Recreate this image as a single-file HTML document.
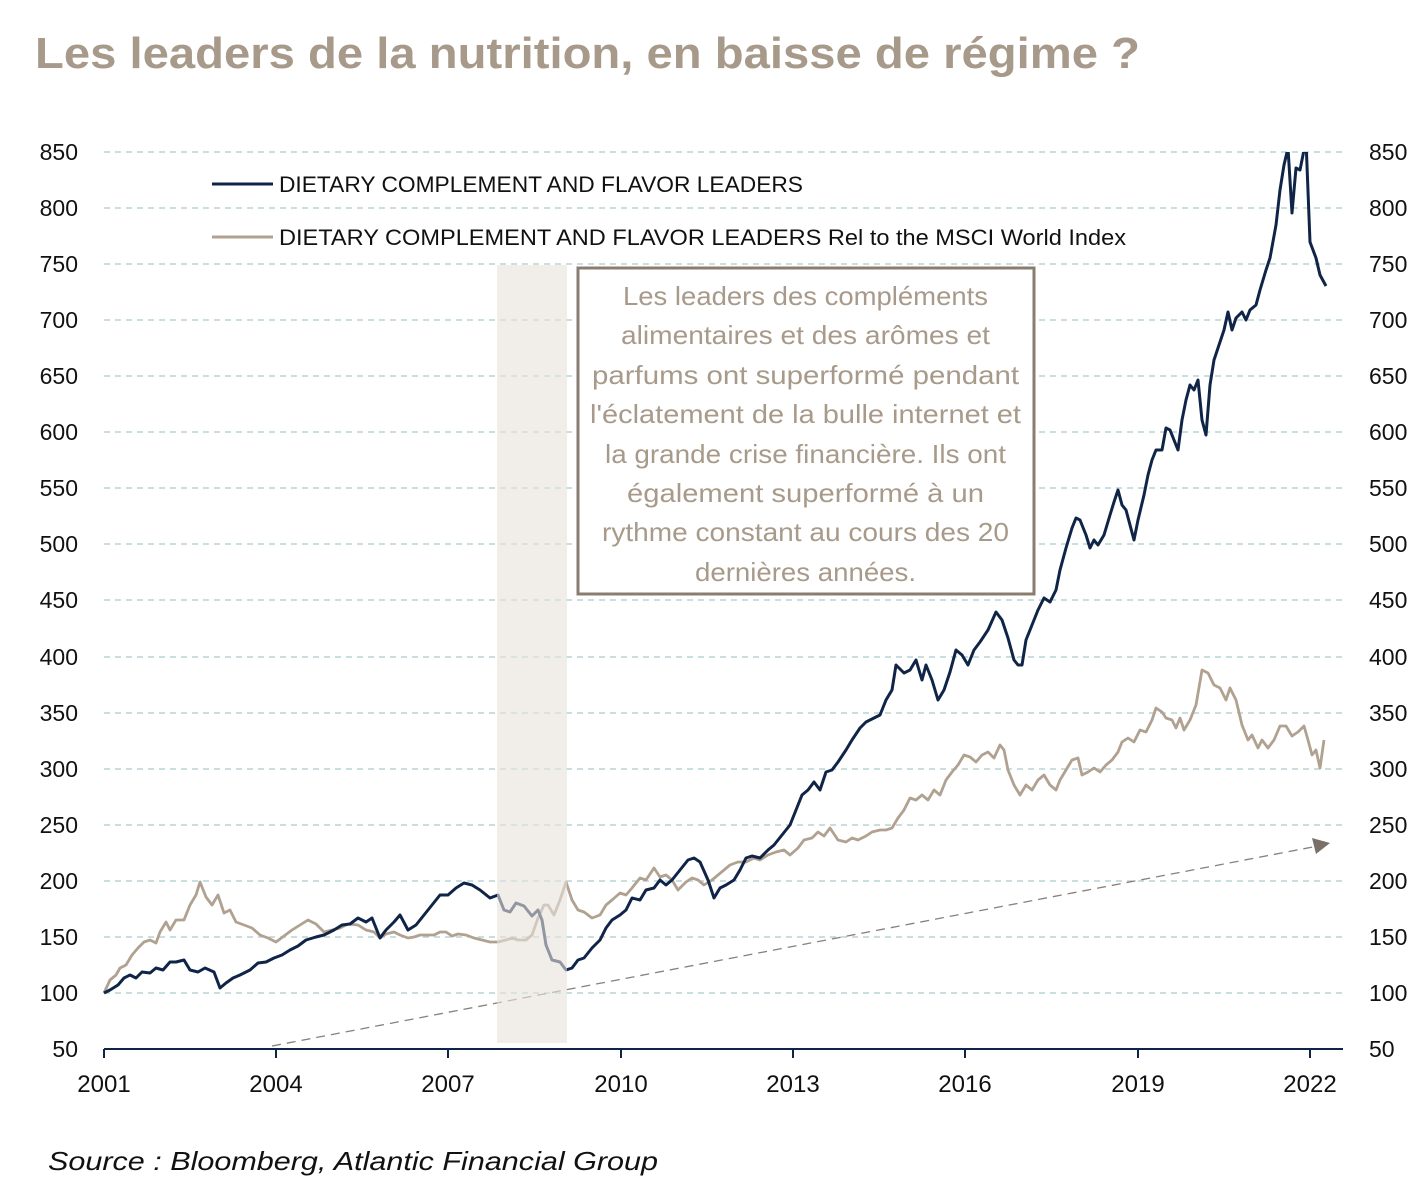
<!DOCTYPE html>
<html><head><meta charset="utf-8"><style>
body{margin:0;background:#fff;}
svg{display:block;font-family:"Liberation Sans",sans-serif;}
</style></head><body>
<svg width="1420" height="1200" viewBox="0 0 1420 1200" xmlns="http://www.w3.org/2000/svg">
<rect width="1420" height="1200" fill="#fff"/>
<text x="35" y="68" font-size="44" font-weight="bold" fill="#a89a8a" textLength="1105" lengthAdjust="spacingAndGlyphs">Les leaders de la nutrition, en baisse de régime ?</text>
<g stroke="#a9cccc" stroke-width="1.3" stroke-dasharray="6,5">
<line x1="104" y1="152" x2="1343" y2="152"/><line x1="104" y1="208" x2="1343" y2="208"/><line x1="104" y1="264" x2="1343" y2="264"/><line x1="104" y1="320" x2="1343" y2="320"/><line x1="104" y1="376" x2="1343" y2="376"/><line x1="104" y1="432" x2="1343" y2="432"/><line x1="104" y1="488" x2="1343" y2="488"/><line x1="104" y1="544" x2="1343" y2="544"/><line x1="104" y1="600" x2="1343" y2="600"/><line x1="104" y1="657" x2="1343" y2="657"/><line x1="104" y1="713" x2="1343" y2="713"/><line x1="104" y1="769" x2="1343" y2="769"/><line x1="104" y1="825" x2="1343" y2="825"/><line x1="104" y1="881" x2="1343" y2="881"/><line x1="104" y1="937" x2="1343" y2="937"/><line x1="104" y1="993" x2="1343" y2="993"/>
</g>
<g font-size="23" fill="#111" text-anchor="end">
<text x="78" y="160">850</text><text x="78" y="216">800</text><text x="78" y="272">750</text><text x="78" y="328">700</text><text x="78" y="384">650</text><text x="78" y="440">600</text><text x="78" y="496">550</text><text x="78" y="552">500</text><text x="78" y="608">450</text><text x="78" y="665">400</text><text x="78" y="721">350</text><text x="78" y="777">300</text><text x="78" y="833">250</text><text x="78" y="889">200</text><text x="78" y="945">150</text><text x="78" y="1001">100</text><text x="78" y="1057">50</text>
</g>
<g font-size="23" fill="#111">
<text x="1369" y="160">850</text><text x="1369" y="216">800</text><text x="1369" y="272">750</text><text x="1369" y="328">700</text><text x="1369" y="384">650</text><text x="1369" y="440">600</text><text x="1369" y="496">550</text><text x="1369" y="552">500</text><text x="1369" y="608">450</text><text x="1369" y="665">400</text><text x="1369" y="721">350</text><text x="1369" y="777">300</text><text x="1369" y="833">250</text><text x="1369" y="889">200</text><text x="1369" y="945">150</text><text x="1369" y="1001">100</text><text x="1369" y="1057">50</text>
</g>
<line x1="272" y1="1046" x2="1318" y2="846" stroke="#8a8078" stroke-width="1.3" stroke-dasharray="9,6"/>
<polygon points="1330,843 1312,838 1316,854" fill="#7a7068"/>
<polyline fill="none" stroke="#b0a190" stroke-width="2.8" stroke-linejoin="round" points="104,993 110,980 116,975 120,968 126,965 132,955 138,948 144,942 150,940 156,943 160,932 166,922 170,930 176,920 184,920 190,905 196,895 200,882 206,897 212,905 218,895 224,913 230,910 236,922 244,925 252,928 260,935 268,938 276,942 284,936 292,930 300,925 308,920 316,924 324,932 332,930 340,928 348,924 358,925 366,930 374,932 380,938 386,934 394,932 400,935 408,938 414,937 420,935 428,935 434,935 440,932 446,932 452,936 458,934 466,935 474,938 482,940 490,942 498,942 506,940 512,938 518,940 526,940 532,935 538,918 544,905 548,905 554,915 560,900 566,882 572,900 578,910 584,912 592,918 600,915 606,905 612,900 620,893 626,895 632,888 640,878 646,880 654,868 660,877 666,875 672,880 678,890 686,882 692,878 698,880 704,885 712,880 718,875 724,870 730,865 738,862 746,862 754,858 760,860 768,855 776,852 784,850 790,855 798,848 804,840 812,838 818,832 824,836 830,828 838,840 846,842 852,838 858,840 866,836 872,832 880,830 886,830 892,828 898,818 904,810 910,798 916,800 922,795 928,800 934,790 940,795 946,780 952,772 958,765 964,755 970,757 976,762 982,755 988,752 994,758 1000,745 1004,750 1008,770 1014,785 1020,795 1026,785 1032,790 1038,780 1044,775 1050,785 1056,790 1060,780 1066,770 1072,760 1078,758 1082,775 1088,772 1094,768 1100,772 1106,765 1112,760 1118,752 1122,742 1128,738 1134,742 1140,730 1146,732 1152,720 1156,708 1162,712 1166,718 1172,720 1176,728 1180,718 1184,730 1190,720 1196,705 1202,670 1208,673 1214,685 1220,688 1226,700 1230,688 1236,700 1242,725 1248,740 1252,735 1258,748 1262,740 1268,748 1274,740 1280,726 1286,726 1292,736 1298,732 1304,726 1308,740 1312,755 1316,750 1320,768 1324,740"/>
<svg x="0" y="152" width="1420" height="1000" viewBox="0 152 1420 1000" overflow="hidden">
<polyline fill="none" stroke="#0f2447" stroke-width="3" stroke-linejoin="round" points="104,993 110,990 118,985 124,978 130,975 136,978 142,972 150,973 156,968 163,970 170,962 176,962 184,960 190,970 198,972 205,968 214,972 220,988 226,983 233,978 240,975 250,970 258,963 266,962 274,958 282,955 290,950 298,946 306,940 316,937 324,935 334,930 342,925 350,924 358,918 366,922 372,918 380,938 386,930 394,922 400,915 408,930 416,925 424,915 432,905 440,895 448,895 456,888 464,883 472,885 480,890 490,898 498,895 504,910 510,912 516,903 524,906 532,916 538,910 542,920 546,945 552,960 560,962 566,970 572,968 578,960 584,958 592,948 600,940 606,928 612,920 620,915 626,910 632,898 640,900 646,890 654,888 660,880 666,885 672,880 680,870 688,860 694,858 700,862 708,880 714,898 720,888 726,885 734,880 740,870 746,858 752,856 760,858 768,850 774,845 782,835 790,825 796,810 802,795 808,790 814,782 820,790 826,772 832,770 838,762 846,750 852,740 860,728 866,722 874,718 880,715 886,700 892,690 896,665 904,673 910,670 916,660 922,680 926,665 932,680 938,700 944,690 950,672 956,650 962,655 968,665 974,650 980,642 988,630 996,612 1002,620 1008,638 1014,660 1018,665 1022,665 1026,640 1032,625 1038,610 1044,598 1050,602 1056,590 1060,570 1066,548 1072,528 1076,518 1080,520 1086,535 1090,548 1094,540 1098,545 1104,535 1110,515 1114,502 1118,490 1122,505 1126,510 1130,525 1134,540 1138,520 1144,495 1148,475 1152,460 1156,450 1162,450 1166,428 1170,430 1174,440 1178,450 1182,420 1186,400 1190,385 1194,390 1198,380 1202,420 1206,435 1210,385 1214,360 1218,348 1224,330 1228,312 1232,330 1236,318 1242,312 1246,320 1250,310 1256,305 1260,290 1266,270 1270,258 1276,225 1280,190 1284,165 1288,148 1292,213 1296,168 1300,170 1304,150 1306,140 1310,242 1316,258 1320,275 1326,286"/>
</svg>
<rect x="497" y="265" width="70" height="778" fill="#e8e2dc" fill-opacity="0.6"/>
<line x1="104" y1="1049" x2="1343" y2="1049" stroke="#0f2447" stroke-width="2"/>
<g stroke="#0f2447" stroke-width="2">
<line x1="104" y1="1049" x2="104" y2="1058"/><line x1="276" y1="1049" x2="276" y2="1058"/><line x1="448" y1="1049" x2="448" y2="1058"/><line x1="621" y1="1049" x2="621" y2="1058"/><line x1="793" y1="1049" x2="793" y2="1058"/><line x1="965" y1="1049" x2="965" y2="1058"/><line x1="1138" y1="1049" x2="1138" y2="1058"/><line x1="1310" y1="1049" x2="1310" y2="1058"/>
</g>
<g font-size="24" fill="#111" text-anchor="middle">
<text x="104" y="1092">2001</text><text x="276" y="1092">2004</text><text x="448" y="1092">2007</text><text x="621" y="1092">2010</text><text x="793" y="1092">2013</text><text x="965" y="1092">2016</text><text x="1138" y="1092">2019</text><text x="1310" y="1092">2022</text>
</g>
<line x1="212" y1="184" x2="273" y2="184" stroke="#0f2447" stroke-width="3"/>
<text x="279" y="192" font-size="22" fill="#111" textLength="524" lengthAdjust="spacingAndGlyphs">DIETARY COMPLEMENT AND FLAVOR LEADERS</text>
<line x1="212" y1="237" x2="273" y2="237" stroke="#b0a190" stroke-width="3"/>
<text x="279" y="245" font-size="22" fill="#111" textLength="847" lengthAdjust="spacingAndGlyphs">DIETARY COMPLEMENT AND FLAVOR LEADERS Rel to the MSCI World Index</text>
<rect x="578" y="268" width="456" height="326" fill="#fff" stroke="#8a7d70" stroke-width="3"/>
<g font-size="26" fill="#a89a8a" lengthAdjust="spacingAndGlyphs">
<text x="623" y="305" textLength="365" lengthAdjust="spacingAndGlyphs">Les leaders des compléments</text>
<text x="621" y="344" textLength="369" lengthAdjust="spacingAndGlyphs">alimentaires et des arômes et</text>
<text x="592" y="384" textLength="427" lengthAdjust="spacingAndGlyphs">parfums ont superformé pendant</text>
<text x="590" y="423" textLength="431" lengthAdjust="spacingAndGlyphs">l'éclatement de la bulle internet et</text>
<text x="605" y="463" textLength="401" lengthAdjust="spacingAndGlyphs">la grande crise financière. Ils ont</text>
<text x="627" y="502" textLength="357" lengthAdjust="spacingAndGlyphs">également superformé à un</text>
<text x="602" y="541" textLength="407" lengthAdjust="spacingAndGlyphs">rythme constant au cours des 20</text>
<text x="695" y="581" textLength="221" lengthAdjust="spacingAndGlyphs">dernières années.</text>
</g>
<text x="48" y="1170" font-size="26" font-style="italic" fill="#111" textLength="610" lengthAdjust="spacingAndGlyphs">Source : Bloomberg, Atlantic Financial Group</text>
</svg>
</body></html>
